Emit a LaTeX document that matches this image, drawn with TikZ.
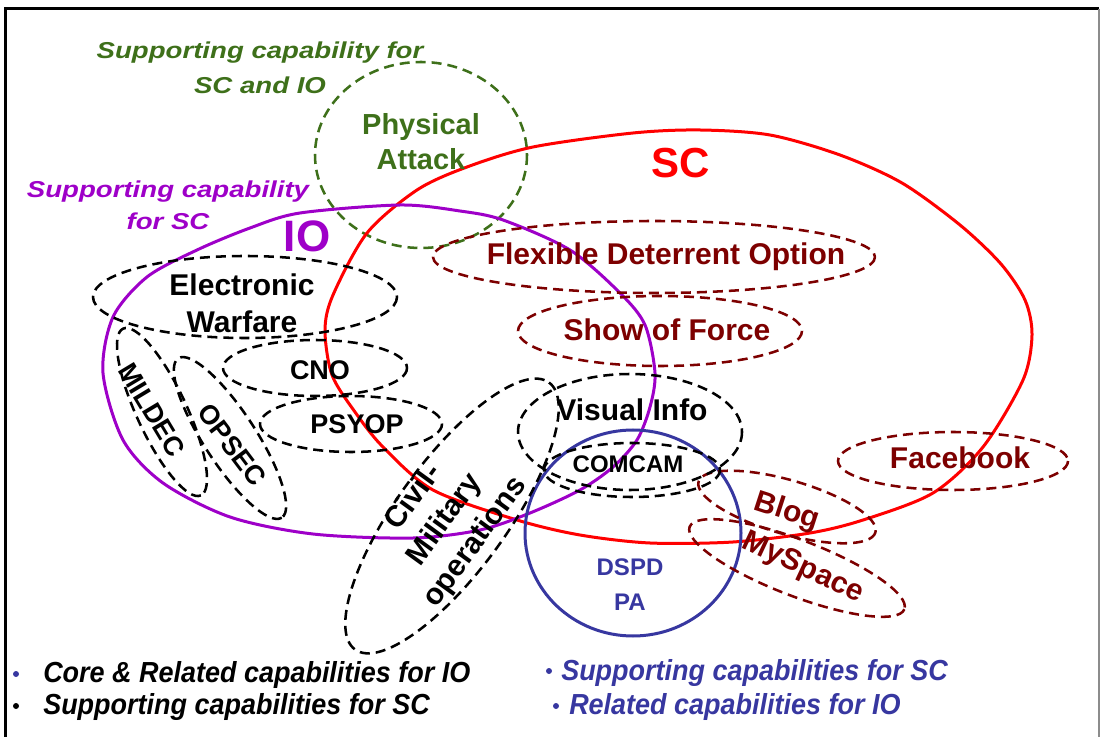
\documentclass[tikz,border=0pt]{standalone}
\usepackage{fontspec}
\setmainfont{Liberation Sans}
\usepackage{xcolor}
\usepackage{graphicx}
\usepackage{tikz}
\definecolor{scred}{RGB}{255,0,0}
\definecolor{iopurple}{RGB}{158,0,200}
\definecolor{pagreen}{RGB}{62,112,26}
\definecolor{fdored}{RGB}{125,0,0}
\definecolor{dspdblue}{RGB}{55,55,160}

\begin{document}
\begin{tikzpicture}[x=0.75pt,y=0.75pt,yscale=-1,xscale=1,
  dashline/.style={dash pattern={on 7.5pt off 4.5pt},line width=1.9pt},
  solidline/.style={line width=2.25pt},
  bigtxt/.style={font={\fontsize{22.5}{28}\selectfont\bfseries},align=center,inner sep=0.75pt},
  midtxt/.style={font={\fontsize{20.25}{25}\selectfont\bfseries},align=center,inner sep=0.75pt},
  smalltxt/.style={font={\fontsize{18}{26.25}\selectfont\bfseries},align=center,inner sep=0.75pt},
  notetxt/.style={font={\fontsize{17.25}{26}\selectfont\bfseries\itshape},align=center,inner sep=0.75pt},
  keytxt/.style={font={\fontsize{21.75}{24}\selectfont\bfseries\itshape},anchor=west,inner sep=0.75pt},
  keydot/.style={circle,fill,inner sep=0pt,minimum size=4.5pt}]
\useasboundingbox (0,0) rectangle (1102,737);
%Frame
\draw [line width=2.25pt] (5,738) -- (5,9) -- (1099,9) ;
\draw [color=black!45,line width=1.2pt] (1099,9) -- (1099,738) ;
%Shape: Circle (physical attack)
\draw [pagreen,dashline] (421,155) ellipse (106 and 93) ;
%Shape: Closed curve (SC)
\draw [scred,solidline] plot [smooth cycle] coordinates {(325,330) (333,295) (367,233) (417,190) (467,167) (533,147) (633,133) (700,130) (770,135) (840,155) (902,183) (960,225) (1001,264) (1025,300) (1032,335) (1023,380) (983,447) (933,493) (863,520) (810,533) (733,542) (650,543) (580,535) (517,520) (433,490) (383,447) (355,412) (332,375)} ;
%Shape: Closed curve (IO)
\draw [iopurple,solidline] plot [smooth cycle] coordinates {(103,373) (113,317) (147,277) (197,250) (250,228) (300,213) (400,205) (460,211) (503,220) (570,250) (620,293) (645,325) (655,373) (650,407) (637,440) (613,467) (580,490) (530,513) (480,530) (413,538) (313,534) (230,517) (163,483) (123,440)} ;
%Shape: Circle (DSPD / PA)
\draw [dspdblue,solidline] (633,533) ellipse (108 and 103) ;
%Shape: Ellipse (SC options)
\draw [fdored,dashline] (654,257) ellipse (221 and 36) ;
\draw [fdored,dashline] (660,331) ellipse (142 and 35) ;
\draw [fdored,dashline] (953,461) ellipse (115 and 29) ;
\draw [fdored,dashline,rotate around={16:(787,507)}] (787,507) ellipse (92 and 27) ;
\draw [fdored,dashline,rotate around={21:(797,568)}] (797,568) ellipse (115 and 28) ;
%Shape: Ellipse (IO capabilities)
\draw [dashline] (245,297) ellipse (152 and 41) ;
\draw [dashline] (315,368) ellipse (92 and 28) ;
\draw [dashline] (351,424) ellipse (91 and 28) ;
\draw [dashline,rotate around={65:(162,412)}] (162,412) ellipse (92 and 25) ;
\draw [dashline,rotate around={57:(230,438)}] (230,438) ellipse (95 and 26) ;
\draw [dashline,rotate around={-54:(452,516)}] (452,516) ellipse (165 and 55) ;
\draw [dashline] (630,432) ellipse (112 and 58) ;
\draw [dashline] (632,470) ellipse (88 and 27) ;
% Text Node
\node [notetxt,text=pagreen] (supboth) at (260,68) {\scalebox{1.2}[1]{Supporting capability for}\\\scalebox{1.2}[1]{SC and IO}};
% Text Node
\node [notetxt,text=iopurple,font={\fontsize{17.25}{24}\selectfont\bfseries\itshape}] (supsc) at (168,205) {\scalebox{1.2}[1]{Supporting capability}\\\scalebox{1.2}[1]{for SC}};
% Text Node
\node [bigtxt,text=pagreen,font={\fontsize{21.75}{26.25}\selectfont\bfseries}] (phys) at (421,142) {Physical\\Attack};
% Text Node
\node [bigtxt,text=iopurple,font={\fontsize{33}{36}\selectfont\bfseries}] (io) at (307,236) {IO};
% Text Node
\node [bigtxt,text=scred,font={\fontsize{31.5}{36}\selectfont\bfseries}] (sc) at (681,163) {SC};
% Text Node
\node [bigtxt,text=fdored] (fdo) at (666,257) {Flexible Deterrent Option};
% Text Node
\node [bigtxt,text=fdored] (sof) at (667,330) {Show of Force};
% Text Node
\node [bigtxt,text=fdored] (fb) at (960,458) {Facebook};
% Text Node
\node [bigtxt,text=fdored,rotate=-18] (blog) at (787,512) {Blog};
% Text Node
\node [bigtxt,text=fdored,rotate=-25] (mysp) at (803,568) {MySpace};
% Text Node
\node [bigtxt] (ew) at (242,303) {Electronic\\Warfare};
% Text Node
\node [midtxt] (cno) at (320,370) {CNO};
% Text Node
\node [midtxt] (psyop) at (357,424) {PSYOP};
% Text Node
\node [midtxt,rotate=-59] (mildec) at (152,410) {MILDEC};
% Text Node
\node [midtxt,rotate=-53] (opsec) at (232,445) {OPSEC};
% Text Node
\node [bigtxt,font={\fontsize{22.5}{28.5}\selectfont\bfseries},rotate=54] (cmo) at (445,520) {Civil-\\Military\\operations};
% Text Node
\node [bigtxt] (vis) at (632,410) {Visual Info};
% Text Node
\node [smalltxt] (comcam) at (628,464) {COMCAM};
% Text Node
\node [smalltxt,text=dspdblue] (dspd) at (630,585) {DSPD\\PA};
%Legend
\node [keydot,fill=dspdblue] (dota) at (16,674) {};
\node [keytxt] (keya) at (42,675) {\scalebox{0.93}[1]{Core \& Related capabilities for IO}};
\node [keydot,fill=black] (dotb) at (16,706) {};
\node [keytxt] (keyb) at (42,707) {\scalebox{0.93}[1]{Supporting capabilities for SC}};
\node [keydot,fill=dspdblue] (dotc) at (549,671) {};
\node [keytxt,text=dspdblue] (keyc) at (560,673) {\scalebox{0.93}[1]{Supporting capabilities for SC}};
\node [keydot,fill=dspdblue] (dotd) at (556,706) {};
\node [keytxt,text=dspdblue] (keyd) at (568,707) {\scalebox{0.93}[1]{Related capabilities for IO}};
\end{tikzpicture}
\end{document}
